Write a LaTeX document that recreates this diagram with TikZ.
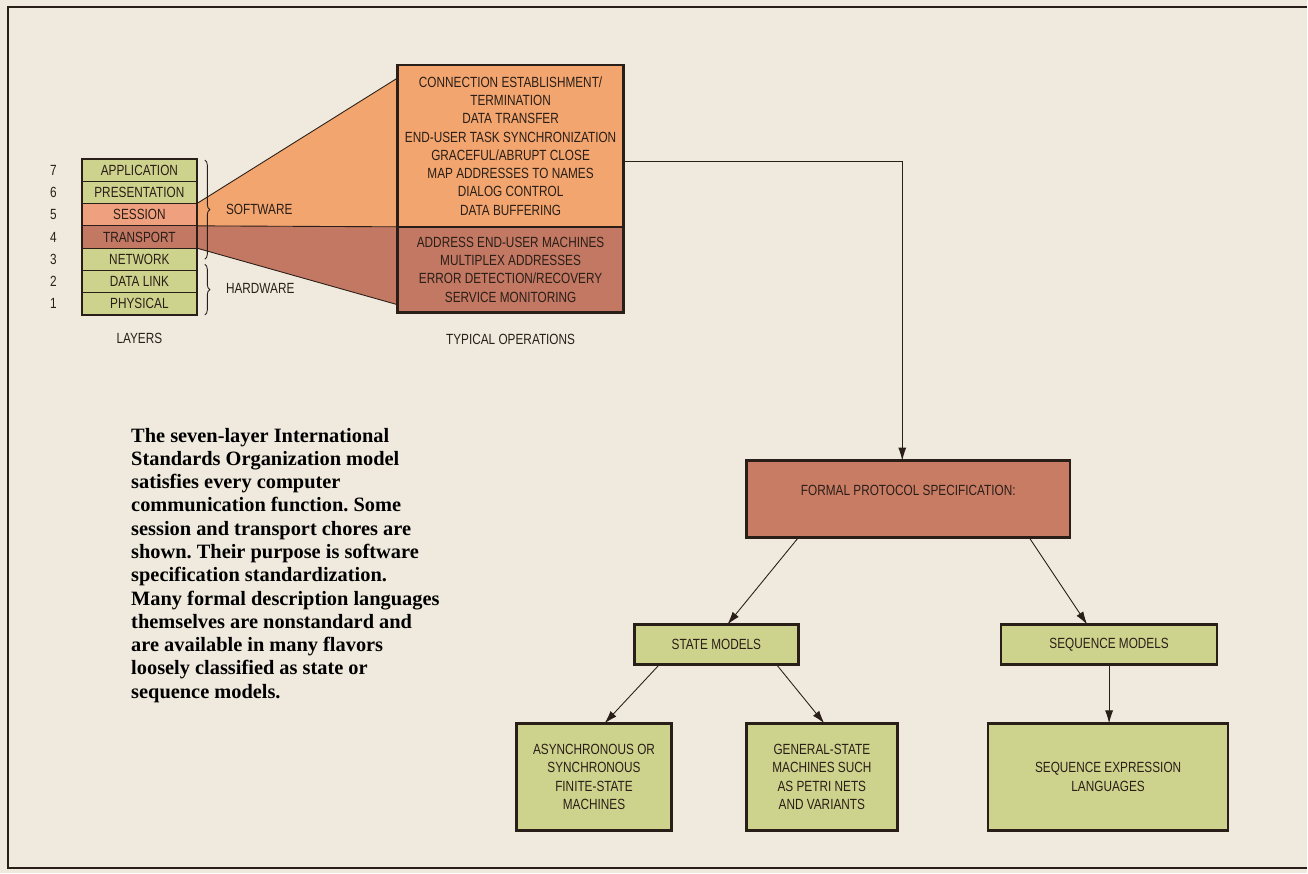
\documentclass[tikz,border=0pt]{standalone}
\usepackage{fontspec}
\setmainfont{Liberation Serif}
\newfontfamily\condsans[FakeStretch=0.8]{Liberation Sans}
\usetikzlibrary{arrows.meta,positioning,calc,decorations.pathreplacing}
\definecolor{papercream}{HTML}{EFEADD}
\definecolor{layergreen}{HTML}{CDD38C}
\definecolor{sessionsalmon}{HTML}{EFA07E}
\definecolor{opsorange}{HTML}{F2A56E}
\definecolor{transdark}{HTML}{C27862}
\definecolor{fpsred}{HTML}{C87C64}
\definecolor{inkdark}{HTML}{2A1E18}
\frenchspacing

\begin{document}
\begin{tikzpicture}[
  x=0.02cm,y=-0.02cm,
  capfont/.style={font=\condsans\fontsize{8.4}{10.4}\selectfont,text=inkdark},
  box/.style={draw=inkdark,capfont,align=center,inner sep=0pt,outer sep=0pt},
  layer/.style={box,line width=0.5pt,fill=layergreen,
    minimum width=2.3cm,minimum height=0.446cm},
  opsbox/.style={box,line width=1.4pt,minimum width=4.52cm},
  greenbox/.style={box,line width=1.4pt,fill=layergreen},
  arrow/.style={-{Latex[length=2.6mm,width=1.6mm]},line width=0.5pt,draw=inkdark},
  brace/.style={decorate,decoration={brace,amplitude=0.1cm},line width=0.5pt,draw=inkdark}
]
\fill[papercream] (0,0) rectangle (1308,874);
\draw[line width=1.2pt,draw=inkdark] (1308,7) -- (8,7) -- (8,869) -- (1308,869);

% layer stack
\node[layer] (app) at (139.5,170.3) {APPLICATION};
\node[layer,below=0pt of app] (pres) {PRESENTATION};
\node[layer,below=0pt of pres,fill=sessionsalmon] (sess) {SESSION};
\node[layer,below=0pt of sess,fill=transdark] (trans) {TRANSPORT};
\node[layer,below=0pt of trans] (net) {NETWORK};
\node[layer,below=0pt of net] (link) {DATA LINK};
\node[layer,below=0pt of link] (phys) {PHYSICAL};

\node[capfont,left=0.38cm of app] (n7) {7};
\node[capfont,left=0.38cm of pres] (n6) {6};
\node[capfont,left=0.38cm of sess] (n5) {5};
\node[capfont,left=0.38cm of trans] (n4) {4};
\node[capfont,left=0.38cm of net] (n3) {3};
\node[capfont,left=0.38cm of link] (n2) {2};
\node[capfont,left=0.38cm of phys] (n1) {1};
\node[capfont,below=0.25cm of phys] (layers) {LAYERS};

% fan out to the operations
\coordinate (fantop) at (398,78);
\coordinate (fanmid) at (398,227);
\coordinate (fanbot) at (398,305);
\fill[opsorange] (sess.north east) -- (fantop) -- (fanmid) -- (sess.south east) -- cycle;
\fill[transdark] (trans.north east) -- (fanmid) -- (fanbot) -- (trans.south east) -- cycle;
\draw[line width=0.5pt,draw=inkdark] (sess.north east) -- (fantop);
\draw[line width=0.5pt,draw=inkdark] (sess.south east) -- (fanmid);
\draw[line width=0.5pt,draw=inkdark] (trans.south east) -- (fanbot);
\draw[line width=1.4pt,draw=inkdark] (app.north west) rectangle (phys.south east);

\draw[brace] ($(app.north east)+(8,1)$) -- ($(net.east)+(8,0)$);
\draw[brace] ($(net.east)+(8,5)$) -- ($(phys.south east)+(8,0)$);
\node[capfont,anchor=west] (soft) at (220,210) {SOFTWARE};
\node[capfont,anchor=west] (hard) at (220,289) {HARDWARE};

\node[opsbox,fill=opsorange,minimum height=3.24cm] (opsup) at (511,146)
  {CONNECTION ESTABLISHMENT/\\TERMINATION\\DATA TRANSFER\\END-USER TASK SYNCHRONIZATION\\
   GRACEFUL/ABRUPT CLOSE\\MAP ADDRESSES TO NAMES\\DIALOG CONTROL\\DATA BUFFERING};
\node[opsbox,fill=transdark,minimum height=1.72cm,below=0pt of opsup] (opsdn)
  {ADDRESS END-USER MACHINES\\MULTIPLEX ADDRESSES\\ERROR DETECTION/RECOVERY\\SERVICE MONITORING};
\node[capfont,below=0.3cm of opsdn] (typical) {TYPICAL OPERATIONS};

% specification tree
\node[box,line width=1.4pt,fill=fpsred,minimum width=6.48cm,minimum height=1.54cm] (fps)
  at (909,499.5) {FORMAL PROTOCOL SPECIFICATION:\\~};
\node[greenbox,minimum width=3.28cm,minimum height=0.8cm] (state) at (717,645) {STATE MODELS};
\node[greenbox,minimum width=4.32cm,minimum height=0.8cm] (seq) at (1110,645) {SEQUENCE MODELS};
\node[greenbox,minimum width=3.1cm,minimum height=2.14cm] (asyn) at (594.5,777.5)
  {ASYNCHRONOUS OR\\SYNCHRONOUS\\FINITE-STATE\\MACHINES};
\node[greenbox,minimum width=3.02cm,minimum height=2.14cm] (gen) at (822.5,777.5)
  {GENERAL-STATE\\MACHINES SUCH\\AS PETRI NETS\\AND VARIANTS};
\node[greenbox,minimum width=4.8cm,minimum height=2.14cm] (seqlang) at (1109,777.5)
  {SEQUENCE EXPRESSION\\LANGUAGES};

\draw[arrow] ($(opsup.east)+(0,16)$) -| ($(fps.north)+(-6,0)$);
\draw[arrow] ($(fps.south west)+(52,0)$) -- ($(state.north west)+(93,0)$);
\draw[arrow] ($(fps.south west)+(283,0)$) -- ($(seq.north west)+(86,0)$);
\draw[arrow] ($(state.south west)+(25,0)$) -- ($(asyn.north west)+(88,0)$);
\draw[arrow] ($(state.south west)+(142,0)$) -- ($(gen.north west)+(78,0)$);
\draw[arrow] (seq.south) -- (seq.south |- seqlang.north);

% caption
\node[anchor=north west,align=left,inner sep=0pt,
  font=\bfseries\fontsize{11.6}{13.26}\selectfont] (caption) at (131,428)
  {The seven-layer International\\Standards Organization model\\satisfies every computer\\
   communication function. Some\\session and transport chores are\\shown. Their purpose is software\\
   specification standardization.\\Many formal description languages\\themselves are nonstandard and\\
   are available in many flavors\\loosely classified as state or\\sequence models.};
\end{tikzpicture}
\end{document}
